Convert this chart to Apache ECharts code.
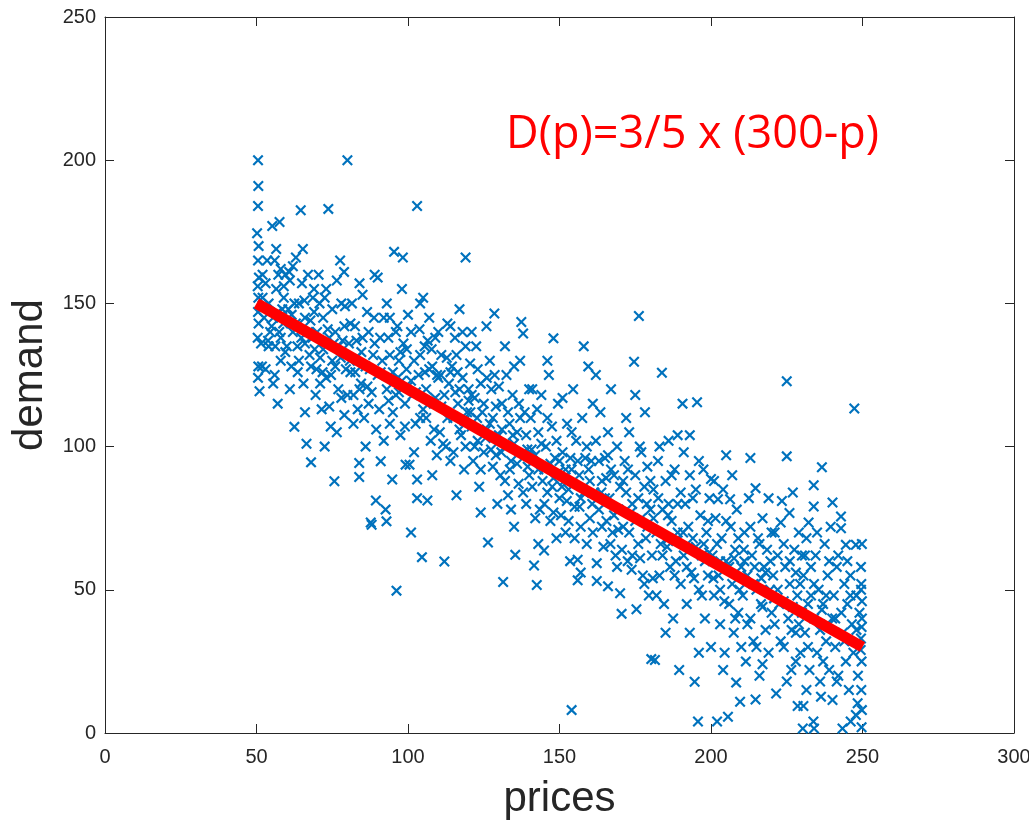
<!DOCTYPE html>
<html>
<head>
<meta charset="utf-8">
<script src="https://cdn.jsdelivr.net/npm/echarts@6/dist/echarts.min.js"></script>
<style>
  html, body { margin: 0; padding: 0; background: #ffffff; }
  #chart { width: 1029px; height: 820px; }
</style>
</head>
<body>
<div id="chart"></div>
<script>
// ---- Data: [price, demand] observations, by price band ----
const band050 = [[50.5,200],[50.6,191],[50.5,184],[50.2,174.5],[50.7,170],[50.5,165],[50.8,159],[50.4,156],[50.6,152],[50.5,147],[50.7,143],[50.4,138],[50.6,128],[51,119.3],[50.5,124],[52,160],[53,157],[54,150],[55.2,177],[55.5,145],[56,165],[56.5,169],[57,115],[57.6,178.4],[58,162],[58,138],[59,152],[59.5,133],[53,127],[54,135],[55,142],[56,125],[57,147],[58,130],[59,156],[51.5,136],[52.5,145],[53.5,165],[54.5,140],[55.5,122],[56.5,155],[57.5,140],[58.5,148],[59.5,160],[52,152],[53.8,137],[56.2,135],[58.8,143],[51.8,128],[57.2,160]];
const band060 = [[60.5,148],[61,158],[61.5,128],[62,140],[62.5,106.9],[63,166],[63.5,135],[64,150],[64.6,182.5],[65.3,169],[65.5,122],[66,145],[66.5,101],[67,160],[67.5,132],[68,94.5],[68.5,138],[69,155],[69.5,118],[60,135],[61,120],[62,163],[63,143],[64,130],[65,157],[66,112],[67,140],[68,128],[69,147],[69.8,127],[62.5,150],[66,136],[60.8,161],[63.6,126],[65.8,151],[67.8,144],[61.6,146],[64.8,138],[68.6,152],[69.2,134]];
const band070 = [[70.5,160],[71,131],[71.5,113],[72,145],[72.5,152],[73,124],[73.7,183],[74,138],[74.5,107],[75,148],[75.7,87.9],[76,128],[76.5,158],[77,135],[77.6,165],[78,117],[78.9,161],[79,142],[79.5,127],[80,200],[70,140],[71,122],[72,134],[73,155],[74,114],[75,130],[76,140],[77,120],[78,150],[79,111],[72.5,100],[76.5,105],[70.8,150],[73.5,141],[75.5,136],[77.8,131],[79.2,149],[71.8,126],[74.6,125],[78.4,137]];
const band080 = [[80.5,136],[81,126],[81.5,150],[82,118],[82.5,142],[83,131],[83.9,94.3],[83.9,89.4],[84,157],[84.5,122],[85,138],[85.5,110],[86,128],[86.5,147],[87,115],[87.7,73.5],[88,72.7],[88.5,132],[89,160],[89.4,81.2],[90,125],[80,118],[81,143],[82,108],[83,137],[84,120],[85,153],[86,100],[87,140],[88,119],[89,136],[90,159],[89.5,106],[80.8,130],[82.6,126],[84.6,133],[86.6,121],[88.8,145],[83.4,113],[87.4,127]];
const band090 = [[90.5,113],[91,94.9],[91.5,130],[92,145],[92.6,78],[92.9,73.9],[93,120],[93.5,138],[94,108],[94.8,88.5],[95,126],[95.4,168],[96,118],[96.2,49.7],[96.5,142],[97,130],[97.5,104],[98,123],[98.3,166],[98.5,136],[99,115],[99.2,93.7],[99.5,127],[100,146],[91,126],[92,102],[93,150],[94,132],[95,112],[96,140],[97,119],[98,155],[99,107],[100,121],[94,145],[97.5,133],[90.8,138],[93.6,116],[96.6,124],[99.6,134]];
const band100 = [[101,70],[101,140],[101.5,118],[102,130],[102.5,108],[103,184],[103,88.5],[103,82],[103.5,125],[104,150],[104.6,61.4],[105,113],[105.5,135],[106,120],[106.4,81.2],[107,145],[107.5,102],[108,128],[108.5,115],[109,138],[109.5,97],[110,124],[101,123],[102,98],[104,132],[105,152],[106,110],[107,127],[108,90],[109,117],[110,140],[104,110],[106.5,137],[100.5,93.7],[102.6,119],[105.6,126],[108.6,106],[103.8,141],[107.8,134],[109.6,125]];
const band110 = [[110.5,105],[111,132],[112,59.9],[112,118],[112.5,100],[113,143],[113.5,122],[114,95],[114.5,128],[115,110],[115.5,138],[116,83],[116.5,115],[117,148],[117.5,104],[118,124],[118.5,92],[119,166],[119,135],[119.5,112],[120,120],[111,114],[113,110],[114,126],[115,98],[116,132],[117,106],[118,140],[119,100],[120,116],[114,142],[117,120],[110.8,125],[112.8,131],[115.6,119],[118.6,109],[111.6,101],[116.4,126]];
const band120 = [[120.5,129],[121,107],[121.5,95],[122,117],[122.5,135],[123,102],[123.5,86],[124,122],[124.5,112],[125,98],[125.9,142],[126.4,66.5],[127,108],[127.5,120],[128,93],[128.5,146.5],[129,114],[129.5,80],[130,104],[121,118],[122,100],[123,127],[124,92],[125,115],[126,106],[127,130],[128,110],[129,97],[130,121],[124,77],[126,124],[121,140],[122.8,110],[125.6,103],[128.6,125],[120.6,112],[127.4,99]];
const band130 = [[130.5,90],[131,115],[131.4,52.7],[132,100],[132.5,125],[133,83],[133.5,108],[134,95],[134.5,118],[135,72],[135.4,62.2],[136,105],[136.5,87],[137,130],[137.4,143.5],[138,139.5],[138,98],[138.5,112],[139,80],[139.5,93],[140,120],[131,106],[132,88],[133,112],[134,78],[135,101],[136,94],[137,110],[138,84],[139,104],[140,90],[135,128],[132,135],[130.8,98],[133.6,92],[136.6,115],[139.4,99],[134.6,104]];
const band140 = [[140.5,110],[141,86],[141.6,58.5],[142,97],[142.5,51.7],[143,105],[143.5,78],[144,118],[144.9,63.7],[145,92],[145.5,100],[146,84],[146.5,125],[147,74],[147.5,107],[148,137.8],[148,89],[148.5,96],[149,68],[149.5,115],[150,82],[141,120],[142,75],[143,92],[144,101],[145,80],[146,110],[147,94],[148,77],[149,102],[150,95],[146,130],[143,66],[140.8,99],[144.4,88],[147.6,86],[149.6,91],[142.6,113]];
const band150 = [[150.5,76],[151,98],[151.5,88],[152,70],[152.5,108],[153,85],[153.5,60],[154,8],[154,92],[154.5,120],[155,79],[155.5,102],[156,53.3],[156,60.5],[156.5,90],[157,72],[157.5,110],[158,84],[158.5,96],[159,66],[159.5,128],[160,88],[151,117],[152,92],[153,74],[154,105],[155,68],[156,95],[157,82],[158,135],[159,100],[160,75],[157,56],[150.8,86],[153.6,96],[156.6,79],[159.6,92],[152.4,81]];
const band160 = [[160.5,95],[161,70],[161.5,84],[162,102],[162.3,53.1],[162.3,59.3],[163,78],[163.5,112],[164,88],[164.5,65],[165,96],[165.5,74],[166,51.2],[166,105],[166.5,82],[167,120],[167.5,70],[168,90],[168.5,62],[169,100],[169.5,78],[170,48.8],[170,86],[170.5,41.6],[161,115],[163,95],[164,72],[165,82],[167,92],[168,76],[169,58],[162,125],[166,97],[160.8,80],[163.8,84],[166.8,66],[169.4,71],[165.4,89]];
const band170 = [[171,72],[171.5,95],[172,84],[172.5,60],[173,105],[173.8,57],[174,80],[174.6,129.6],[175,90],[175.4,43.2],[176,66],[176.2,145.6],[176.5,100],[177,75],[177.5,55],[178,86],[178.2,112],[178.5,68],[179,93],[179.5,48],[180,78],[180.3,25.8],[172,110],[173,70],[174,62],[175,118],[176,82],[177,98],[178,52],[179,72],[180,88],[175,74],[171,88],[170.6,64],[173.6,77],[176.6,61],[178.8,80],[172.6,92]];
const band180 = [[180.5,62],[181,85],[181.5,25.5],[182,70],[182.5,95],[183,55],[183.8,125.8],[184,78],[184.5,45],[185,88],[185.5,65],[186,102],[186.5,58],[187,74],[187.5,40],[188,92],[188.5,67],[189,80],[189.5,22],[190,52],[181,75],[182,48],[183,100],[184,62],[185,35],[186,80],[187,90],[188,55],[189,70],[190,84],[186,68],[189,104],[180.8,54],[183.4,66],[185.8,76],[188.4,60],[182.6,82]];
const band190 = [[190.6,115],[191,62],[191.5,80],[192,45],[192.5,72],[193,90],[193.5,56],[194,68],[194.6,17.9],[195,85],[195.4,115.5],[195.7,4],[196,50],[196.5,76],[197,62],[197.5,92],[198,40],[198.5,70],[199,55],[199.5,82],[200,88.7],[200,30],[191,98],[192,58],[193,35],[194,82],[195,65],[196,95],[197,48],[198,60],[199,74],[196,28],[193,104],[190.8,70],[194.4,54],[197.6,66],[199.4,63]];
const band200 = [[200.5,62],[201,48],[201.5,75],[202,4],[202.3,81.6],[202.5,55],[203,38],[203.5,68],[204,85],[204.5,28],[205,60],[205.6,5.7],[206,45],[206.3,81.6],[206.5,72],[207,52],[207.5,35],[208,64],[208.3,17.6],[208.5,78],[209,42],[209.6,10.9],[210,58],[201,88],[202,66],[203,50],[204,22],[205,74],[206,58],[207,90],[208,40],[209,68],[210,30],[203,60],[205,97],[200.8,54],[204.4,46],[207.6,61],[209.4,50]];
const band210 = [[210.5,48],[211,70],[211.5,25],[212,55],[212.5,82],[213,40],[213.5,62],[214,32],[214.7,85.5],[214.7,11.7],[215,50],[215.5,68],[216,20],[216.5,45],[217,75],[217.5,58],[218,36],[218.5,64],[219,82],[219,28],[219.5,50],[220,42],[211,60],[212,38],[213,72],[214,52],[215,30],[216,66],[217,44],[218,56],[220,70],[213,96],[217,24],[210.8,64],[214.4,58],[216.6,54],[219.6,60]];
const band220 = [[220.5,55],[221,38],[221.5,13.8],[222,62],[222.5,45],[223,73.5],[223.4,81],[224,30],[224.5,58],[225,122.8],[225,96.6],[225.5,40],[225.9,76.8],[226,52],[226.5,22],[227,84],[227.5,64],[228,35],[228.5,48],[228.6,9.4],[229,70],[229.5,28],[230,42],[221,70],[222,50],[223,32],[224,66],[225,18],[226,60],[227,44],[228,56],[229,38],[230,62],[224,46],[228,25],[220.8,47],[226.6,36],[229.4,52]];
const band230 = [[230.3,1.6],[230.5,9.4],[230.5,55],[231,35],[231.5,68],[232,45],[232.2,73.5],[232.5,22],[233,58],[233.8,4],[233.9,86.5],[233.9,79.1],[234,1.6],[234,40],[234.5,62],[235,28],[235.5,50],[236,18],[236.3,12.7],[236.6,92.8],[237,45],[237.5,66],[238,32],[238.5,55],[239,22],[239.5,72],[240,40],[240.1,11.5],[240.1,80.5],[231,62],[232,30],[233,48],[235,70],[236,36],[237,25],[238,48],[239,60],[231.5,15],[234,52],[236.6,43],[238.6,38]];
const band240 = [[240.5,48],[241,30],[241.5,58],[242,20],[242.9,75.6],[242.9,71.5],[243,42],[243.4,1.6],[243.5,35],[244,52],[244.5,65.7],[244.5,25],[245,45],[245.5,15],[246,55],[246.1,4],[246.5,38],[247,28],[247.3,113.3],[247.8,65.7],[247.8,6.3],[248,48],[248.4,10.4],[248.5,20],[249,42],[249.5,33],[249.5,58],[249.8,66],[249.7,2],[249.8,8],[249.6,15],[249.7,25],[249.8,46],[249.6,52],[249.8,40],[249.5,50],[241,40],[242,62],[244,32],[246,48],[248,36],[241.5,18],[245,60],[249.4,29],[249.7,37]];

// Model line D(p) = 3/5 x (300 - p), endpoints as drawn
const fitPrices = [50, 250];
const fitDemand = [150, 30];

// Axis ticks
const xTicks = [0, 50, 100, 150, 200, 250, 300];
const yTicks = [0, 50, 100, 150, 200, 250];

const annotation = 'D(p)=3/5 x (300-p)';

const observations = [].concat(band050, band060, band070, band080, band090, band100,
  band110, band120, band130, band140, band150, band160, band170, band180, band190,
  band200, band210, band220, band230, band240);
const fitLine = fitPrices.map((p, i) => [p, fitDemand[i]]);

const AXIS_COLOR = '#262626';
const FONT = '"Liberation Sans", Arial, Helvetica, sans-serif';
const xStep = xTicks[1] - xTicks[0];
const yStep = yTicks[1] - yTicks[0];

function makeAxis(isX, primary) {
  const ticks = isX ? xTicks : yTicks;
  const ax = {
    type: 'value',
    min: ticks[0],
    max: ticks[ticks.length - 1],
    interval: isX ? xStep : yStep,
    position: isX ? (primary ? 'bottom' : 'top') : (primary ? 'left' : 'right'),
    axisLine: { show: true, onZero: false, lineStyle: { color: AXIS_COLOR, width: 1 } },
    axisTick: { show: true, inside: true, length: 9, lineStyle: { color: AXIS_COLOR, width: 1 } },
    axisLabel: { show: primary, fontSize: 20, color: AXIS_COLOR, fontFamily: FONT, margin: isX ? 14 : 9 },
    splitLine: { show: false }
  };
  if (primary) {
    ax.name = isX ? 'prices' : 'demand';
    ax.nameLocation = 'middle';
    ax.nameGap = isX ? 45 : 49;
    ax.nameTextStyle = { fontSize: 42, color: AXIS_COLOR, fontFamily: FONT };
  }
  return ax;
}

const chart = echarts.init(document.getElementById('chart'), null, { renderer: 'canvas' });
chart.setOption({
  animation: false,
  backgroundColor: '#ffffff',
  grid: { left: 105, right: 15, top: 17, bottom: 87, containLabel: false, outerBoundsMode: 'none' },
  xAxis: [makeAxis(true, true), makeAxis(true, false)],
  yAxis: [makeAxis(false, true), makeAxis(false, false)],
  series: [
    {
      name: 'observations',
      type: 'scatter',
      xAxisIndex: 0,
      yAxisIndex: 0,
      data: observations,
      symbol: 'path://M0,1.4L1.4,0L5,3.6L8.6,0L10,1.4L6.4,5L10,8.6L8.6,10L5,6.4L1.4,10L0,8.6L3.6,5Z',
      symbolSize: 11,
      itemStyle: { color: '#0072BD', opacity: 1 },
      z: 2
    },
    {
      name: 'D(p)',
      type: 'line',
      xAxisIndex: 0,
      yAxisIndex: 0,
      data: fitLine,
      showSymbol: false,
      symbol: 'none',
      lineStyle: { color: '#FF0000', width: 11, cap: 'butt' },
      z: 5
    }
  ],
  graphic: [
    {
      type: 'text',
      left: 506,
      top: 113,
      style: {
        text: annotation,
        fill: '#FF0000',
        font: '45px "Open Sans", Lato, sans-serif'
      },
      z: 10
    }
  ]
});
</script>
</body>
</html>
